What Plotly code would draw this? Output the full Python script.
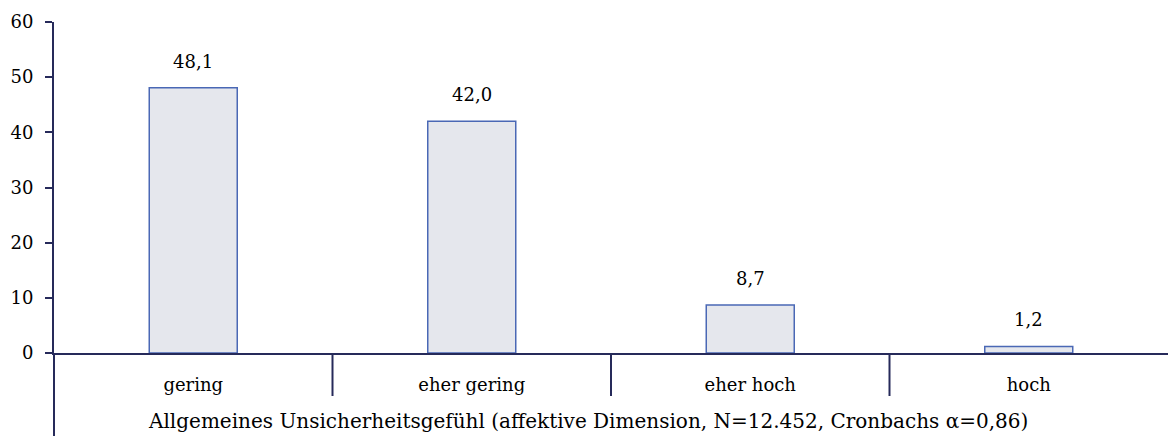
import plotly.graph_objects as go

categories = ["gering", "eher gering", "eher hoch", "hoch"]
values = [48.1, 42.0, 8.7, 1.2]
y_ticks = [0, 10, 20, 30, 40, 50, 60]
x_title = "Allgemeines Unsicherheitsgefühl (affektive Dimension, N=12.452, Cronbachs α=0,86)"

labels = [f"{v:.1f}".replace(".", ",") for v in values]

AXIS = "#262a5a"
FONT = dict(family="DejaVu Serif, Liberation Serif, serif", size=18, color="#000000")
TITLE_FONT = dict(family="DejaVu Serif, Liberation Serif, serif", size=20, color="#000000")

W, H = 1168, 436
ml, mr, mt, mb = 54, 0, 22, 83
ph = H - mt - mb
pw = W - ml - mr

fig = go.Figure()
fig.add_trace(go.Bar(
    x=list(range(len(categories))), y=values, width=0.316,
    marker=dict(color="#e5e7ed", line=dict(color="#4a68b5", width=1.5)),
    hoverinfo="skip",
))

for i, (v, t) in enumerate(zip(values, labels)):
    fig.add_annotation(x=i, y=v, text=t, showarrow=False, xref="x", yref="y",
                       yanchor="bottom", yshift=14, font=FONT)

# category dividers below the axis
for i in range(1, len(categories)):
    fig.add_shape(type="line", xref="x", yref="paper", x0=i - 0.5, x1=i - 0.5,
                  y0=0, y1=-43 / ph, line=dict(color=AXIS, width=2))
# y axis extension below
fig.add_shape(type="line", xref="paper", yref="paper", x0=0, x1=0,
              y0=0, y1=-(mb + 5) / ph, line=dict(color=AXIS, width=2))

fig.add_annotation(x=(588 - ml) / pw, xref="paper", y=-68 / ph, yref="paper", text=x_title,
                   showarrow=False, xanchor="center", yanchor="middle", font=TITLE_FONT)

fig.update_layout(
    width=W, height=H, margin=dict(l=ml, r=mr, t=mt, b=mb),
    plot_bgcolor="white", paper_bgcolor="white", showlegend=False,
    font=FONT,
    xaxis=dict(tickmode="array", tickvals=list(range(len(categories))), ticktext=categories,
               range=[-0.5, len(categories) - 0.5], showline=True, linecolor=AXIS, linewidth=2,
               ticks="", showgrid=False, zeroline=False, ticklabelstandoff=14,
               tickfont=FONT),
    yaxis=dict(range=[0, 60], tickvals=y_ticks, showline=True, linecolor=AXIS, linewidth=2,
               ticks="outside", ticklen=7, tickwidth=2, tickcolor=AXIS, showgrid=False,
               zeroline=False, tickfont=FONT, ticklabelstandoff=8),
)

fig.write_html("out.html", config={"displayModeBar": False},
               post_script="document.body.style.margin='0';document.body.style.overflow='hidden';")
